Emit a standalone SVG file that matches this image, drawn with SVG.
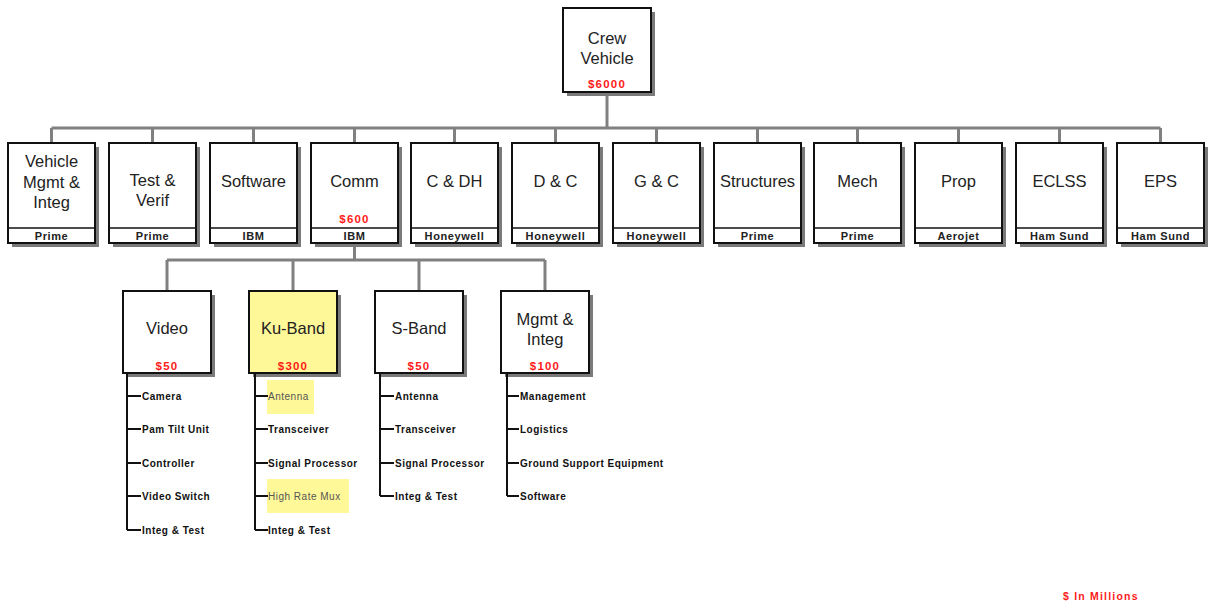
<svg xmlns="http://www.w3.org/2000/svg" width="1209" height="605" viewBox="0 0 1209 605">
  <style>
    text { font-family: "Liberation Sans", Arial, sans-serif; }
    .shadow { fill: #7a7a7a; }
    .box { fill: #ffffff; stroke: #111111; stroke-width: 2; }
    .hl { fill: #fff899; }
    .strip { fill: none; stroke: #111111; stroke-width: 1.5; }
    .title { font-size: 16.5px; fill: #222222; text-anchor: middle; }
    .cost { font-size: 11.5px; font-weight: bold; fill: #ff1a1a; text-anchor: middle; letter-spacing: 1.2px; }
    .org { font-size: 11px; font-weight: bold; fill: #222222; text-anchor: middle; letter-spacing: 0.6px; }
    .leaf { font-size: 10px; font-weight: bold; fill: #111111; letter-spacing: 0.5px; }
    .leaf-hl { font-size: 10px; fill: #555555; letter-spacing: 0.5px; }
    .conn { stroke: #808080; stroke-width: 3; fill: none; }
    .tree { stroke: #111111; stroke-width: 2; fill: none; }
    .note { font-size: 10.5px; font-weight: bold; fill: #ff1a1a; letter-spacing: 1.2px; }
  </style>

  <!-- gray connectors between the boxes -->
  <g id="connectors">
    <path class="conn" d="M607 92 V128 M51.5 128 H1160.5"/>
    <path class="conn" d="M51.5 128 V143 M152.5 128 V143 M253.5 128 V143 M354.5 128 V143 M454.5 128 V143 M555.5 128 V143 M656.5 128 V143 M757.5 128 V143 M857.5 128 V143 M958.5 128 V143 M1059.5 128 V143 M1160.5 128 V143"/>
    <path class="conn" d="M354.5 243 V260 M167 260 H545 M167 260 V291 M293 260 V291 M419 260 V291 M545 260 V291"/>
  </g>

  <!-- top level -->
  <g id="crew-vehicle">
    <rect class="shadow" x="567" y="12" width="88" height="84"/>
    <rect class="box" x="563" y="8" width="88" height="84"/>
    <text class="title" x="607" y="44">Crew</text>
    <text class="title" x="607" y="64">Vehicle</text>
    <text class="cost" x="607" y="88">$6000</text>
  </g>

  <!-- second level -->
  <g id="vehicle-mgmt">
    <rect class="shadow" x="12" y="147" width="87" height="100"/>
    <rect class="box" x="8" y="143" width="87" height="100"/>
    <line class="strip" x1="8" y1="228" x2="95" y2="228"/>
    <text class="title" x="51.5" y="167">Vehicle</text>
    <text class="title" x="51.5" y="188">Mgmt &amp;</text>
    <text class="title" x="51.5" y="208">Integ</text>
    <text class="org" x="51.5" y="240">Prime</text>
  </g>
  <g id="test-verif">
    <rect class="shadow" x="113" y="147" width="87" height="100"/>
    <rect class="box" x="109" y="143" width="87" height="100"/>
    <line class="strip" x1="109" y1="228" x2="196" y2="228"/>
    <text class="title" x="152.5" y="186">Test &amp;</text>
    <text class="title" x="152.5" y="206">Verif</text>
    <text class="org" x="152.5" y="240">Prime</text>
  </g>
  <g id="software">
    <rect class="shadow" x="214" y="147" width="87" height="100"/>
    <rect class="box" x="210" y="143" width="87" height="100"/>
    <line class="strip" x1="210" y1="228" x2="297" y2="228"/>
    <text class="title" x="253.5" y="187">Software</text>
    <text class="org" x="253.5" y="240">IBM</text>
  </g>
  <g id="comm">
    <rect class="shadow" x="315" y="147" width="87" height="100"/>
    <rect class="box" x="311" y="143" width="87" height="100"/>
    <line class="strip" x1="311" y1="228" x2="398" y2="228"/>
    <text class="title" x="354.5" y="187">Comm</text>
    <text class="cost" x="354.5" y="223">$600</text>
    <text class="org" x="354.5" y="240">IBM</text>
  </g>
  <g id="c-dh">
    <rect class="shadow" x="415" y="147" width="87" height="100"/>
    <rect class="box" x="411" y="143" width="87" height="100"/>
    <line class="strip" x1="411" y1="228" x2="498" y2="228"/>
    <text class="title" x="454.5" y="187">C &amp; DH</text>
    <text class="org" x="454.5" y="240">Honeywell</text>
  </g>
  <g id="d-c">
    <rect class="shadow" x="516" y="147" width="87" height="100"/>
    <rect class="box" x="512" y="143" width="87" height="100"/>
    <line class="strip" x1="512" y1="228" x2="599" y2="228"/>
    <text class="title" x="555.5" y="187">D &amp; C</text>
    <text class="org" x="555.5" y="240">Honeywell</text>
  </g>
  <g id="g-c">
    <rect class="shadow" x="617" y="147" width="87" height="100"/>
    <rect class="box" x="613" y="143" width="87" height="100"/>
    <line class="strip" x1="613" y1="228" x2="700" y2="228"/>
    <text class="title" x="656.5" y="187">G &amp; C</text>
    <text class="org" x="656.5" y="240">Honeywell</text>
  </g>
  <g id="structures">
    <rect class="shadow" x="718" y="147" width="87" height="100"/>
    <rect class="box" x="714" y="143" width="87" height="100"/>
    <line class="strip" x1="714" y1="228" x2="801" y2="228"/>
    <text class="title" x="757.5" y="187">Structures</text>
    <text class="org" x="757.5" y="240">Prime</text>
  </g>
  <g id="mech">
    <rect class="shadow" x="818" y="147" width="87" height="100"/>
    <rect class="box" x="814" y="143" width="87" height="100"/>
    <line class="strip" x1="814" y1="228" x2="901" y2="228"/>
    <text class="title" x="857.5" y="187">Mech</text>
    <text class="org" x="857.5" y="240">Prime</text>
  </g>
  <g id="prop">
    <rect class="shadow" x="919" y="147" width="87" height="100"/>
    <rect class="box" x="915" y="143" width="87" height="100"/>
    <line class="strip" x1="915" y1="228" x2="1002" y2="228"/>
    <text class="title" x="958.5" y="187">Prop</text>
    <text class="org" x="958.5" y="240">Aerojet</text>
  </g>
  <g id="eclss">
    <rect class="shadow" x="1020" y="147" width="87" height="100"/>
    <rect class="box" x="1016" y="143" width="87" height="100"/>
    <line class="strip" x1="1016" y1="228" x2="1103" y2="228"/>
    <text class="title" x="1059.5" y="187">ECLSS</text>
    <text class="org" x="1059.5" y="240">Ham Sund</text>
  </g>
  <g id="eps">
    <rect class="shadow" x="1121" y="147" width="87" height="100"/>
    <rect class="box" x="1117" y="143" width="87" height="100"/>
    <line class="strip" x1="1117" y1="228" x2="1204" y2="228"/>
    <text class="title" x="1160.5" y="187">EPS</text>
    <text class="org" x="1160.5" y="240">Ham Sund</text>
  </g>

  <!-- third level under Comm -->
  <g id="video">
    <rect class="shadow" x="127" y="295" width="88" height="82"/>
    <rect class="box" x="123" y="291" width="88" height="82"/>
    <text class="title" x="167" y="334">Video</text>
    <text class="cost" x="167" y="370">$50</text>
  </g>
  <g id="ku-band">
    <rect class="shadow" x="253" y="295" width="88" height="82"/>
    <rect class="box" x="249" y="291" width="88" height="82" style="fill:#fff899"/>
    <text class="title" x="293" y="334">Ku-Band</text>
    <text class="cost" x="293" y="370">$300</text>
  </g>
  <g id="s-band">
    <rect class="shadow" x="379" y="295" width="88" height="82"/>
    <rect class="box" x="375" y="291" width="88" height="82"/>
    <text class="title" x="419" y="334">S-Band</text>
    <text class="cost" x="419" y="370">$50</text>
  </g>
  <g id="mgmt-integ">
    <rect class="shadow" x="505" y="295" width="88" height="82"/>
    <rect class="box" x="501" y="291" width="88" height="82"/>
    <text class="title" x="545" y="325">Mgmt &amp;</text>
    <text class="title" x="545" y="345">Integ</text>
    <text class="cost" x="545" y="370">$100</text>
  </g>

  <!-- element lists -->
  <g id="video-items">
    <path class="tree" d="M127 374 V530 M127 396 H141 M127 429 H141 M127 463 H141 M127 496 H141 M127 530 H141"/>
    <text class="leaf" x="142" y="400">Camera</text>
    <text class="leaf" x="142" y="433">Pam Tilt Unit</text>
    <text class="leaf" x="142" y="467">Controller</text>
    <text class="leaf" x="142" y="500">Video Switch</text>
    <text class="leaf" x="142" y="534">Integ &amp; Test</text>
  </g>
  <g id="ku-band-items">
    <rect class="hl" x="267" y="380" width="47" height="34"/>
    <rect class="hl" x="267" y="479" width="82" height="34"/>
    <path class="tree" d="M255 374 V530 M255 396 H268 M255 429 H268 M255 463 H268 M255 496 H268 M255 530 H268"/>
    <text class="leaf-hl" x="268" y="400">Antenna</text>
    <text class="leaf" x="268" y="433">Transceiver</text>
    <text class="leaf" x="268" y="467">Signal Processor</text>
    <text class="leaf-hl" x="268" y="500">High Rate Mux</text>
    <text class="leaf" x="268" y="534">Integ &amp; Test</text>
  </g>
  <g id="s-band-items">
    <path class="tree" d="M380 374 V496 M380 396 H394 M380 429 H394 M380 463 H394 M380 496 H394"/>
    <text class="leaf" x="395" y="400">Antenna</text>
    <text class="leaf" x="395" y="433">Transceiver</text>
    <text class="leaf" x="395" y="467">Signal Processor</text>
    <text class="leaf" x="395" y="500">Integ &amp; Test</text>
  </g>
  <g id="mgmt-integ-items">
    <path class="tree" d="M507 374 V496 M507 396 H519 M507 429 H519 M507 463 H519 M507 496 H519"/>
    <text class="leaf" x="520" y="400">Management</text>
    <text class="leaf" x="520" y="433">Logistics</text>
    <text class="leaf" x="520" y="467">Ground Support Equipment</text>
    <text class="leaf" x="520" y="500">Software</text>
  </g>

  <text class="note" x="1063" y="600">$ In Millions</text>
</svg>
